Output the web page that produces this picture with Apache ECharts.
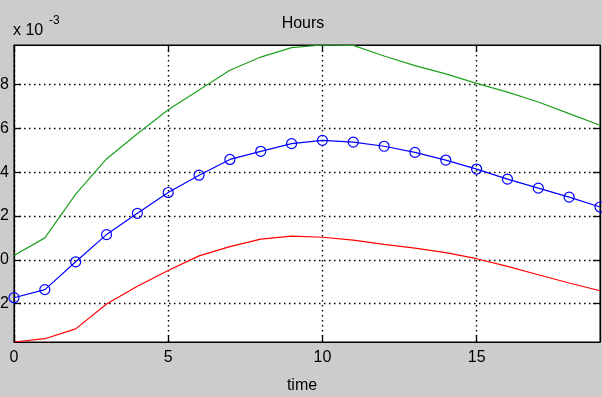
<!DOCTYPE html>
<html>
<head>
<meta charset="utf-8">
<script src="https://cdn.jsdelivr.net/npm/echarts@6/dist/echarts.min.js"></script>
<style>
  html, body { margin: 0; padding: 0; background: #cccccc; }
  #chart { width: 602px; height: 397px; }
</style>
</head>
<body>
<div id="chart"></div>
<script>
// values are in units of 1e-3
const time = [0, 1, 2, 3, 4, 5, 6, 7, 8, 9, 10, 11, 12, 13, 14, 15, 16, 17, 18, 19];
const upper = [0.2, 1.0, 3.0, 4.6, 5.75, 6.85, 7.75, 8.65, 9.25, 9.68, 9.8, 9.78, 9.3, 8.86, 8.48, 8.05, 7.65, 7.2, 6.67, 6.14];
const mean = [-1.73, -1.36, -0.09, 1.15, 2.12, 3.07, 3.86, 4.58, 4.95, 5.3, 5.45, 5.37, 5.18, 4.9, 4.55, 4.14, 3.68, 3.27, 2.86, 2.41];
const lower = [-3.75, -3.6, -3.15, -2.02, -1.21, -0.49, 0.18, 0.6, 0.94, 1.08, 1.03, 0.9, 0.7, 0.53, 0.33, 0.05, -0.3, -0.68, -1.06, -1.41];
const xTicks = [0, 5, 10, 15];
const yTicks = [-2, 0, 2, 4, 6, 8];

const font = '"Liberation Sans", Arial, sans-serif';
const dots = {color: '#000', type: [1.5, 3.5], width: 1.4};

function pairs(ys) {
    let list = [];
    for (let i = 0; i < time.length; i++) {
        list.push([time[i], ys[i]]);
    }
    return list;
}

let chart = echarts.init(document.getElementById('chart'));
chart.setOption({
    backgroundColor: '#cccccc',
    animation: false,
    grid: {
        left: 14,
        right: 2,
        top: 45,
        bottom: 55,
        outerBoundsMode: 'none',
        containLabel: false,
        show: true,
        backgroundColor: '#ffffff',
        borderColor: '#000000',
        borderWidth: 1
    },
    xAxis: [
        {
            type: 'value',
            min: 0,
            max: 19,
            axisLine: {onZero: false, lineStyle: {color: '#000', width: 1.2}},
            axisTick: {inside: true, length: 7, customValues: xTicks, lineStyle: {color: '#000', width: 1.3}},
            axisLabel: {color: '#000', fontSize: 16, fontFamily: font, margin: 8, customValues: xTicks},
            splitLine: {show: true, lineStyle: dots}
        },
        {
            type: 'value',
            position: 'top',
            min: 0,
            max: 19,
            axisLine: {onZero: false, lineStyle: {color: '#000', width: 1.2}},
            axisTick: {inside: true, length: 7, customValues: xTicks, lineStyle: {color: '#000', width: 1.3}},
            axisLabel: {show: false},
            splitLine: {show: false}
        }
    ],
    yAxis: [
        {
            type: 'value',
            min: -3.75,
            max: 9.8,
            axisLine: {show: true, onZero: false, lineStyle: {color: '#000', width: 1.2}},
            axisTick: {show: true, inside: true, length: 7, customValues: yTicks, lineStyle: {color: '#000', width: 1.3}},
            axisLabel: {color: '#000', fontSize: 16, fontFamily: font, margin: 5, customValues: yTicks},
            splitLine: {show: true, lineStyle: dots}
        },
        {
            type: 'value',
            position: 'right',
            min: -3.75,
            max: 9.8,
            axisLine: {show: true, onZero: false, lineStyle: {color: '#000', width: 1.2}},
            axisTick: {show: true, inside: true, length: 7, customValues: yTicks, lineStyle: {color: '#000', width: 1.3}},
            axisLabel: {show: false},
            splitLine: {show: false}
        }
    ],
    graphic: [
        {type: 'text', x: 303, y: 24, style: {text: 'Hours', font: '16px ' + font, fill: '#000', textAlign: 'center', textVerticalAlign: 'middle'}},
        {type: 'text', x: 13, y: 31, style: {text: 'x 10', font: '16px ' + font, fill: '#000', textAlign: 'left', textVerticalAlign: 'middle'}},
        {type: 'text', x: 49, y: 21, style: {text: '-3', font: '12px ' + font, fill: '#000', textAlign: 'left', textVerticalAlign: 'middle'}},
        {type: 'text', x: 302, y: 386, style: {text: 'time', font: '16px ' + font, fill: '#000', textAlign: 'center', textVerticalAlign: 'middle'}}
    ],
    series: [
        {
            name: 'upper',
            type: 'line',
            data: pairs(upper),
            showSymbol: false,
            lineStyle: {color: '#20a020', width: 1.2},
            itemStyle: {color: '#20a020'}
        },
        {
            name: 'lower',
            type: 'line',
            data: pairs(lower),
            showSymbol: false,
            lineStyle: {color: '#ff0000', width: 1.2},
            itemStyle: {color: '#ff0000'}
        },
        {
            name: 'mean',
            type: 'line',
            data: pairs(mean),
            symbol: 'circle',
            symbolSize: 10,
            lineStyle: {color: '#0000ff', width: 1.2},
            itemStyle: {color: 'rgba(0,0,0,0)', borderColor: '#0000ff', borderWidth: 1.2}
        }
    ]
});
</script>
</body>
</html>
